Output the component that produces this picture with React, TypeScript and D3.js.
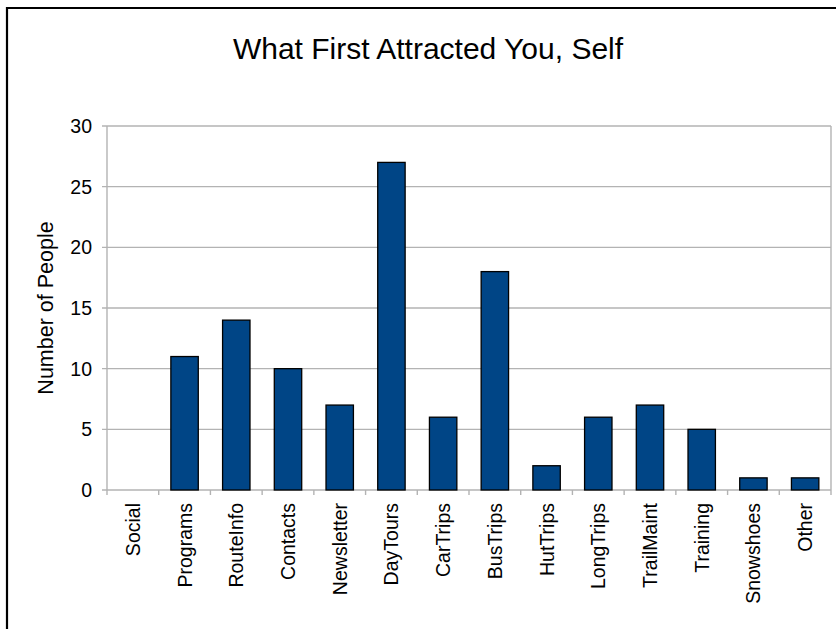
import React, { useEffect, useRef } from "react";
import * as d3 from "d3";

const categories = [
  "Social", "Programs", "RouteInfo", "Contacts", "Newsletter", "DayTours", "CarTrips",
  "BusTrips", "HutTrips", "LongTrips", "TrailMaint", "Training", "Snowshoes", "Other",
];
const counts = [0, 11, 14, 10, 7, 27, 6, 18, 2, 6, 7, 5, 1, 1];
const yTicks = [0, 5, 10, 15, 20, 25, 30];

const App: React.FC = () => {
  const svgRef = useRef<SVGSVGElement | null>(null);

  useEffect(() => {
    const width = 836;
    const height = 629;
    const margin = { top: 126, right: 5, bottom: 139, left: 107 };
    const font = "'Liberation Sans', Arial, sans-serif";

    const svg = d3.select(svgRef.current);
    svg.selectAll("*").remove();

    const data = categories.map((c, i) => ({ name: c, value: counts[i] }));

    const xScale = d3
      .scaleBand()
      .domain(categories)
      .range([margin.left, width - margin.right])
      .padding(0);

    const yScale = d3
      .scaleLinear()
      .domain([0, 30])
      .range([height - margin.bottom, margin.top]);

    // outer frame (only top and left visible)
    svg
      .append("path")
      .attr("d", `M7,${height} L7,8 L${width},8`)
      .attr("fill", "none")
      .attr("stroke", "#000")
      .attr("stroke-width", 2.2);

    // gridlines
    svg
      .append("g")
      .selectAll("line")
      .data(yTicks)
      .enter()
      .append("line")
      .attr("x1", margin.left - 5)
      .attr("x2", width - margin.right)
      .attr("y1", (d) => yScale(d))
      .attr("y2", (d) => yScale(d))
      .attr("stroke", "#b3b3b3")
      .attr("stroke-width", 1.4);

    // y axis line
    svg
      .append("line")
      .attr("x1", margin.left)
      .attr("x2", margin.left)
      .attr("y1", margin.top)
      .attr("y2", height - margin.bottom + 5)
      .attr("stroke", "#b3b3b3")
      .attr("stroke-width", 1.4);

    // right plot edge
    svg
      .append("line")
      .attr("x1", width - margin.right)
      .attr("x2", width - margin.right)
      .attr("y1", margin.top)
      .attr("y2", height - margin.bottom + 5)
      .attr("stroke", "#b3b3b3")
      .attr("stroke-width", 1.4);

    // x tick marks at band edges
    svg
      .append("g")
      .selectAll("line")
      .data(categories.slice(1))
      .enter()
      .append("line")
      .attr("x1", (d) => xScale(d)!)
      .attr("x2", (d) => xScale(d)!)
      .attr("y1", height - margin.bottom)
      .attr("y2", height - margin.bottom + 5)
      .attr("stroke", "#b3b3b3")
      .attr("stroke-width", 1.4);

    // bars
    const barW = xScale.bandwidth() * 0.53;
    svg
      .append("g")
      .selectAll("rect")
      .data(data.filter((d) => d.value > 0))
      .enter()
      .append("rect")
      .attr("x", (d) => xScale(d.name)! + (xScale.bandwidth() - barW) / 2)
      .attr("y", (d) => yScale(d.value))
      .attr("width", barW)
      .attr("height", (d) => yScale(0) - yScale(d.value))
      .attr("fill", "#004586")
      .attr("stroke", "#000")
      .attr("stroke-width", 1.3);

    // y tick labels
    svg
      .append("g")
      .selectAll("text")
      .data(yTicks)
      .enter()
      .append("text")
      .attr("x", 92)
      .attr("y", (d) => yScale(d))
      .attr("dy", "0.36em")
      .attr("text-anchor", "end")
      .style("font-family", font)
      .style("font-size", "19.5px")
      .text((d) => d);

    // x labels, rotated
    svg
      .append("g")
      .selectAll("text")
      .data(categories)
      .enter()
      .append("text")
      .attr(
        "transform",
        (d) => `translate(${xScale(d)! + xScale.bandwidth() / 2},503) rotate(-90)`
      )
      .attr("dy", "0.36em")
      .attr("text-anchor", "end")
      .style("font-family", font)
      .style("font-size", "19.5px")
      .text((d) => d);

    // y axis title
    svg
      .append("text")
      .attr("transform", `translate(53,${(margin.top + height - margin.bottom) / 2}) rotate(-90)`)
      .attr("text-anchor", "middle")
      .style("font-family", font)
      .style("font-size", "21.5px")
      .text("Number of People");

    // chart title
    svg
      .append("text")
      .attr("x", 428)
      .attr("y", 59)
      .attr("text-anchor", "middle")
      .style("font-family", font)
      .style("font-size", "30px")
      .text("What First Attracted You, Self");
  }, []);

  return (
    <div style={{ position: "absolute", left: 0, top: 0 }}>
      <svg ref={svgRef} width={836} height={629} style={{ display: "block", background: "#fff" }}></svg>
    </div>
  );
};

export default App;
